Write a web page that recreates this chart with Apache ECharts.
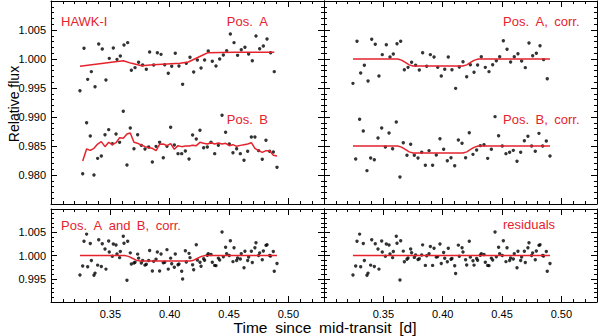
<!DOCTYPE html>
<html><head><meta charset="utf-8">
<script src="https://cdn.jsdelivr.net/npm/echarts@6/dist/echarts.min.js"></script>
<style>html,body{margin:0;padding:0;background:#fff}#c{width:600px;height:336px}</style>
</head><body><div id="c"></div>
<script>
// ---- data ----
const tA = [0.3244,0.3278,0.3309,0.3340,0.3371,0.3402,0.3432,0.3463,0.3491,0.3525,0.3556,0.3584,0.3615,0.3646,0.3677,0.3708,0.3738,0.3772,0.3803,0.3831,0.3865,0.3896,0.3927,0.3958,0.3988,0.4017,0.4047,0.4078,0.4109,0.4140,0.4171,0.4202,0.4233,0.4264,0.4294,0.4325,0.4359,0.4390,0.4421,0.4452,0.4480,0.4511,0.4542,0.4572,0.4603,0.4634,0.4665,0.4696,0.4727,0.4758,0.4789,0.4820,0.4850,0.4881];
const rawA = [0.99454,1.00184,0.99649,0.99782,0.99523,1.00259,1.00172,0.99638,1.00011,1.00190,0.99994,1.00052,1.00241,1.00282,0.99805,0.99851,0.99943,0.99897,0.99822,1.00121,0.99897,1.00109,1.00080,0.99902,0.99753,0.99874,1.00098,0.99879,0.99563,0.99925,1.00029,0.99776,0.99983,0.99845,0.99983,1.00138,0.99960,0.99879,1.00000,1.00069,1.00144,1.00431,1.00282,1.00063,1.00161,1.00201,1.00086,0.99971,1.00397,1.00178,1.00224,1.00345,1.00109,0.99782];
const tB = [0.3267,0.3300,0.3331,0.3362,0.3393,0.3424,0.3455,0.3486,0.3517,0.3548,0.3578,0.3609,0.3640,0.3668,0.3699,0.3730,0.3761,0.3792,0.3823,0.3854,0.3885,0.3915,0.3946,0.3977,0.4008,0.4039,0.4070,0.4101,0.4132,0.4163,0.4193,0.4224,0.4255,0.4286,0.4317,0.4348,0.4379,0.4410,0.4441,0.4471,0.4502,0.4533,0.4564,0.4595,0.4626,0.4657,0.4688,0.4718,0.4749,0.4780,0.4811,0.4842,0.4873,0.4904];
const rawB = [0.98023,0.98902,0.98672,0.98000,0.98287,0.98328,0.98695,0.98782,0.98540,0.98707,0.98563,0.99098,0.98172,0.98810,0.98454,0.98695,0.98511,0.98448,0.98483,0.98224,0.98494,0.98563,0.98299,0.98494,0.98822,0.98517,0.98368,0.98368,0.98414,0.98276,0.98690,0.98621,0.98770,0.98471,0.98483,0.98563,0.98368,0.98511,0.99029,0.98736,0.98534,0.98385,0.98454,0.98368,0.98253,0.98408,0.98655,0.98655,0.98420,0.98270,0.98598,0.98408,0.98397,0.98132];
const trendAt = [0.3244,0.3609,0.3680,0.3764,0.3862,0.4087,0.4157,0.4280,0.4323,0.4536,0.4881];
const trendAv = [0.99874,0.99971,0.99925,0.99885,0.99902,0.99925,0.99948,1.00069,1.00109,1.00115,1.00115];
const trendBv = [0.98241,0.98448,0.98425,0.98460,0.98534,0.98575,0.98489,0.98563,0.98523,0.98557,0.98644,0.98632,0.98707,0.98724,0.98563,0.98546,0.98517,0.98489,0.98471,0.98460,0.98420,0.98529,0.98534,0.98506,0.98540,0.98443,0.98506,0.98489,0.98500,0.98500,0.98511,0.98506,0.98563,0.98546,0.98534,0.98557,0.98534,0.98552,0.98534,0.98546,0.98506,0.98523,0.98494,0.98511,0.98523,0.98534,0.98557,0.98460,0.98420,0.98391,0.98420,0.98420,0.98339,0.98328];
const corrA = [0.99580,1.00305,0.99759,0.99891,0.99621,1.00339,1.00253,0.99707,1.00075,1.00247,1.00034,1.00086,1.00264,1.00305,0.99816,0.99856,0.99943,0.99891,0.99810,1.00109,0.99874,1.00075,1.00034,0.99856,0.99707,0.99822,1.00034,0.99816,0.99494,0.99862,0.99954,0.99695,0.99902,0.99770,0.99897,1.00040,0.99856,0.99782,0.99902,0.99971,1.00040,1.00316,1.00167,0.99948,1.00040,1.00092,0.99966,0.99851,1.00276,1.00057,1.00098,1.00230,0.99989,0.99661];
const corrB = [0.98276,0.98960,0.98759,0.98075,0.98293,0.98264,0.98638,0.98810,0.98483,0.98724,0.98454,0.98914,0.97966,0.98557,0.98339,0.98529,0.98339,0.98293,0.98391,0.98167,0.98420,0.98167,0.98345,0.98626,0.98443,0.98247,0.98299,0.98161,0.98603,0.98546,0.98299,0.98730,0.98356,0.98431,0.98506,0.98523,0.98287,0.98443,0.99006,0.98678,0.98500,0.98368,0.98391,0.98425,0.98236,0.98391,0.98592,0.98667,0.98500,0.98408,0.98718,0.98500,0.98586,0.98328];
const combB = [0.99776,1.00460,1.00259,0.99575,0.99793,0.99764,1.00138,1.00310,0.99983,1.00224,0.99954,1.00414,0.99466,1.00057,0.99839,1.00029,0.99839,0.99793,0.99891,0.99667,0.99920,0.99667,0.99845,1.00126,0.99943,0.99747,0.99799,0.99661,1.00103,1.00046,0.99799,1.00230,0.99856,0.99931,1.00006,1.00023,0.99787,0.99943,1.00506,1.00178,1.00000,0.99868,0.99891,0.99925,0.99736,0.99891,1.00092,1.00167,1.00000,0.99908,1.00218,1.00000,1.00086,0.99828];
const residA = [0.99580,1.00305,0.99759,0.99891,0.99621,1.00339,1.00253,0.99707,1.00075,1.00247,1.00034,1.00086,1.00264,1.00318,0.99865,0.99947,1.00060,1.00011,0.99930,1.00229,0.99994,1.00195,1.00154,0.99976,0.99827,0.99942,1.00154,0.99936,0.99614,0.99982,1.00074,0.99797,0.99965,0.99793,0.99898,1.00040,0.99856,0.99782,0.99902,0.99971,1.00040,1.00316,1.00167,0.99948,1.00040,1.00092,0.99966,0.99851,1.00276,1.00057,1.00098,1.00230,0.99989,0.99661];
const residB = [0.99776,1.00460,1.00259,0.99575,0.99793,0.99764,1.00138,1.00310,0.99983,1.00224,0.99954,1.00414,0.99474,1.00094,0.99918,1.00141,0.99959,0.99913,1.00011,0.99787,1.00040,0.99787,0.99965,1.00246,1.00063,0.99867,0.99919,0.99781,1.00223,1.00166,0.99909,1.00305,0.99889,0.99935,1.00006,1.00023,0.99787,0.99943,1.00506,1.00178,1.00000,0.99868,0.99891,0.99925,0.99736,0.99891,1.00092,1.00167,1.00000,0.99908,1.00218,1.00000,1.00086,0.99828];
const modelT = [0.3244,0.3620,0.3653,0.3685,0.3718,0.3750,0.4170,0.4203,0.4235,0.4268,0.4300,0.4904];
const modelA = [1,1,0.99981,0.9994,0.99899,0.9988,0.9988,0.99899,0.9994,0.99981,1,1];
const modelB = [0.985,0.985,0.98481,0.9844,0.98399,0.9838,0.9838,0.98399,0.9844,0.98481,0.985,0.985];
const residT = [0.3244,0.4904];
const residM = [1,1];
const xMin = 0.30, xMax = 0.53;
const yTop = [0.975, 1.010], yBot = [0.990, 1.010];

// ---- chart ----
const RED = '#e5232d';
const FONT = "'Liberation Sans', Arial, Helvetica, sans-serif";
const SP = '\u2002';
const zip = (t, v) => t.map((x, i) => [x, v[i]]);
const grids = [
  {left: 51, top: 1, width: 273, height: 203},
  {left: 324, top: 1, width: 273, height: 203},
  {left: 51, top: 209, width: 273, height: 93},
  {left: 324, top: 209, width: 273, height: 93}
];
const xAxes = [], yAxes = [];
grids.forEach((g, gi) => {
  ['bottom', 'top'].forEach(pos => {
    xAxes.push({
      gridIndex: gi, type: 'value', position: pos, min: xMin, max: xMax, interval: 0.05,
      axisLine: {show: true, onZero: false, lineStyle: {color: '#000', width: 1}},
      axisTick: {show: true, inside: true, length: 6, lineStyle: {color: '#000'}},
      axisLabel: {show: pos === 'bottom' && gi >= 2, margin: 6, color: '#000', fontSize: 11, fontFamily: FONT,
        showMinLabel: false, showMaxLabel: false, formatter: v => v.toFixed(2)},
      splitLine: {show: false}
    });
    xAxes.push({
      gridIndex: gi, type: 'value', position: pos, min: xMin, max: xMax, interval: 0.01,
      axisLine: {show: false},
      axisTick: {show: true, inside: true, length: 3, lineStyle: {color: '#000'}},
      axisLabel: {show: false}, splitLine: {show: false}
    });
  });
  const yr = gi < 2 ? yTop : yBot;
  ['left', 'right'].forEach(pos => {
    yAxes.push({
      gridIndex: gi, type: 'value', position: pos, min: yr[0], max: yr[1], interval: 0.005,
      axisLine: {show: true, onZero: false, lineStyle: {color: '#000', width: 1}},
      axisTick: {show: true, inside: true, length: 6, lineStyle: {color: '#000'}},
      minorTick: {show: true, splitNumber: 5, length: 3, lineStyle: {color: '#000'}},
      axisLabel: {show: pos === 'left' && gi % 2 === 0, margin: 5, color: '#000', fontSize: 11, fontFamily: FONT,
        showMinLabel: false, showMaxLabel: false, formatter: v => v.toFixed(3)},
      splitLine: {show: false}, minorSplitLine: {show: false}
    });
  });
});
const pts = (gi, t, v) => ({type: 'scatter', xAxisIndex: gi * 4, yAxisIndex: gi * 2, data: zip(t, v),
  symbol: 'circle', symbolSize: 3.4, itemStyle: {color: '#000'}, silent: true, z: 3});
const ln = (gi, t, v) => ({type: 'line', xAxisIndex: gi * 4, yAxisIndex: gi * 2, data: zip(t, v),
  symbol: 'none', showSymbol: false, color: RED, itemStyle: {color: RED},
  lineStyle: {color: RED, width: 1.5, opacity: 1}, silent: true, z: 5});
const series = [
  pts(0, tA, rawA), pts(0, tB, rawB), ln(0, trendAt, trendAv), ln(0, tB, trendBv),
  pts(1, tA, corrA), pts(1, tB, corrB), ln(1, modelT, modelA), ln(1, modelT, modelB),
  pts(2, tA, corrA), pts(2, tB, combB), ln(2, modelT, modelA),
  pts(3, tA, residA), pts(3, tB, residB), ln(3, residT, residM)
];
const txt = (s, x, y, align, size, color, extra) => Object.assign({type: 'text', x: x, y: y, z: 10,
  style: {text: s, fill: color, font: size + 'px ' + FONT, textAlign: align, textVerticalAlign: 'middle'}}, extra || {});
const graphic = [
  txt('HAWK-I', 61, 21, 'left', 13, RED),
  txt('Pos.' + SP + 'A', 268, 21, 'right', 13, RED),
  txt('Pos.' + SP + 'B', 268, 119, 'right', 13, RED),
  txt('Pos.' + SP + 'A,' + SP + 'corr.', 503, 21, 'left', 13, RED),
  txt('Pos.' + SP + 'B,' + SP + 'corr.', 503, 119, 'left', 13, RED),
  txt('Pos.' + SP + 'A' + SP + 'and' + SP + 'B,' + SP + 'corr.', 61, 225, 'left', 13, RED),
  txt('residuals', 503, 224, 'left', 13, RED),
  txt('Relative flux', 14, 104, 'center', 14, '#000', {rotation: Math.PI / 2}),
  txt('Time' + SP + 'since' + SP + 'mid-transit' + SP + '[d]', 325, 327, 'center', 15.5, '#000')
];
const chart = echarts.init(document.getElementById('c'), null, {renderer: 'svg'});
chart.setOption({
  animation: false, backgroundColor: '#fff',
  grid: grids.map(g => Object.assign({outerBoundsMode: 'none', containLabel: false}, g)),
  xAxis: xAxes, yAxis: yAxes, series: series, graphic: graphic
});
</script></body></html>
